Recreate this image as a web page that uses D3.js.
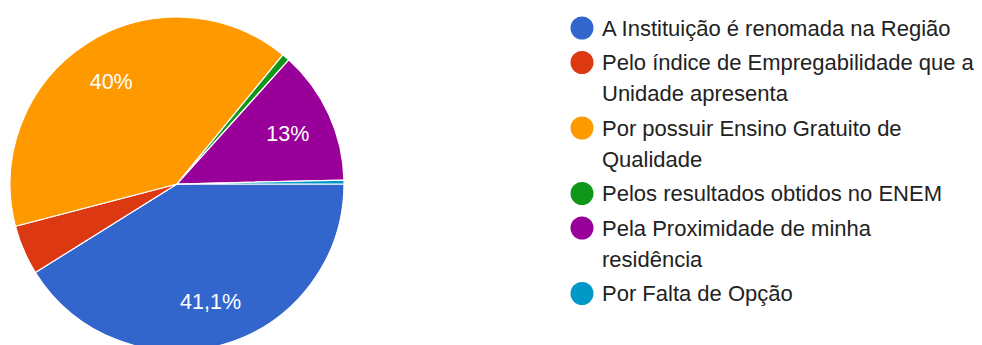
<!DOCTYPE html>
<html>
<head>
<meta charset="utf-8">
<script src="https://cdn.jsdelivr.net/npm/d3@7"></script>
<style>
  html, body { margin: 0; padding: 0; background: #ffffff; }
  svg { display: block; }
</style>
</head>
<body>
<svg id="chart" width="982" height="345"></svg>
<script>
// Response counts for each reason
const categories = [
  "A Instituição é renomada na Região",
  "Pelo índice de Empregabilidade que a Unidade apresenta",
  "Por possuir Ensino Gratuito de Qualidade",
  "Pelos resultados obtidos no ENEM",
  "Pela Proximidade de minha residência",
  "Por Falta de Opção"
];
const counts = [111, 13, 108, 2, 35, 1];
const colors = ["#3366cc", "#dc3912", "#ff9900", "#109618", "#990099", "#0099c6"];

const svg = d3.select("#chart");
const cx = 177, cy = 184, radius = 167;
const fontFamily = "Arial, 'Liberation Sans', sans-serif";

const total = d3.sum(counts);
const data = categories.map((c, i) => ({ name: c, value: counts[i], color: colors[i] }));

// Slices start at 3 o'clock and run clockwise
const pie = d3.pie()
  .value(d => d.value)
  .sort(null)
  .startAngle(Math.PI / 2)
  .endAngle(Math.PI / 2 + 2 * Math.PI);

const arc = d3.arc().innerRadius(0).outerRadius(radius);
const labelArc = d3.arc().innerRadius(radius * 0.73).outerRadius(radius * 0.73);

const g = svg.append("g").attr("transform", `translate(${cx},${cy})`);
const arcs = pie(data);

g.selectAll("path.slice")
  .data(arcs)
  .join("path")
  .attr("class", "slice")
  .attr("d", arc)
  .attr("fill", d => d.data.color)
  .attr("stroke", "#ffffff")
  .attr("stroke-width", 1.2);

// Percentage labels on slices large enough to hold them
const fmtPct = v => {
  const p = Math.round(v * 1000) / 10;
  return String(p).replace(".", ",") + "%";
};
g.selectAll("text.pct")
  .data(arcs.filter(d => d.data.value / total >= 0.1))
  .join("text")
  .attr("class", "pct")
  .attr("transform", d => `translate(${labelArc.centroid(d)})`)
  .attr("text-anchor", "middle")
  .attr("dy", "0.36em")
  .attr("fill", "#ffffff")
  .style("font-family", fontFamily)
  .style("font-size", "21.5px")
  .text(d => fmtPct(d.data.value / total));

// Legend with wrapped entries
const legendX = 582, legendTextX = 602, legendTop = 28;
const lineH = 31, itemGap = 34.5;
const maxW = 373.5;
const legend = svg.append("g");
const measure = legend.append("text")
  .style("font-family", fontFamily).style("font-size", "22px");

function wrap(str) {
  const words = str.split(" ");
  const lines = [];
  let cur = "";
  for (const w of words) {
    const test = cur ? cur + " " + w : w;
    measure.text(test);
    if (measure.node().getComputedTextLength() > maxW && cur) {
      lines.push(cur);
      cur = w;
    } else cur = test;
  }
  if (cur) lines.push(cur);
  return lines;
}

let y = legendTop;
data.forEach(d => {
  const lines = wrap(d.name);
  legend.append("circle")
    .attr("cx", legendX).attr("cy", y)
    .attr("r", 11.5)
    .attr("fill", d.color);
  const t = legend.append("text")
    .attr("fill", "#222222")
    .style("font-family", fontFamily)
    .style("font-size", "22px");
  lines.forEach((ln, k) => {
    t.append("tspan")
      .attr("x", legendTextX)
      .attr("y", y + k * lineH)
      .attr("dy", "0.36em")
      .text(ln);
  });
  y += (lines.length - 1) * lineH + itemGap;
});
measure.remove();
</script>
</body>
</html>
